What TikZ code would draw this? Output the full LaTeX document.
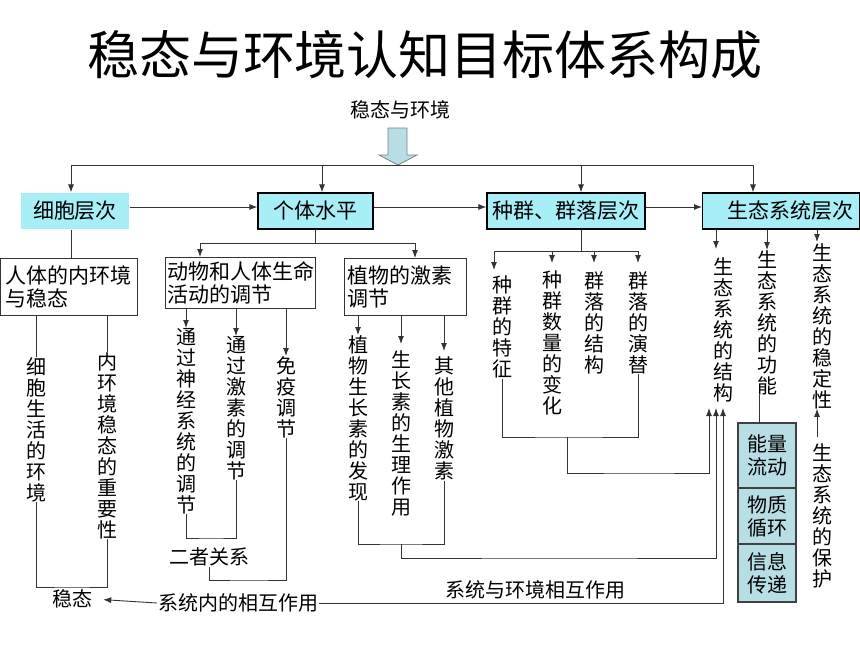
\documentclass[tikz,border=0pt]{standalone}
\usepackage{fontspec}
\setmainfont{Noto Sans CJK SC}
\usetikzlibrary{arrows.meta,positioning}
\definecolor{tiercyan}{RGB}{168,238,246}
\definecolor{funcblue}{RGB}{183,222,228}
\tikzset{
	titletext/.style={inner sep=0pt, font=\fontsize{52}{60}\selectfont},
	plaintext/.style={inner sep=1pt, font=\fontsize{20}{23}\selectfont},
	tierbox/.style={fill=tiercyan, draw=black, line width=1.2pt, minimum height=36pt, inner sep=0pt, font=\fontsize{21}{23}\selectfont},
	topicbox/.style={draw=black!80, line width=1.2pt, anchor=north west, align=left, inner ysep=0pt, font=\fontsize{21}{23}\selectfont},
	vlabel/.style={anchor=north, align=center, inner sep=0pt, font=\fontsize{20}{21}\selectfont},
	funcbox/.style={fill=funcblue, draw=black!75, line width=1.2pt, outer sep=0pt, minimum width=58pt, align=center, inner sep=0pt, font=\fontsize{20}{23}\selectfont},
	link/.style={draw=black!80, line width=0.9pt},
	arr/.style={link, -{Latex[length=8pt,width=6pt]}}
}
\begin{document}
\begin{tikzpicture}[x=1pt,y=-1pt]
	\useasboundingbox (0,0) rectangle (860,645);
	\node[titletext] (title) at (425,55) {稳态与环境认知目标体系构成};
	\node[plaintext] (root) at (400,110) {稳态与环境};
	\draw[draw=black!50, line width=0.8pt, fill=funcblue] (388,128) -- (407,128) -- (407,155) -- (417,155) -- (398,165) -- (379,155) -- (388,155) -- cycle;

	\node[tierbox, draw=none, minimum width=108pt] (cell) at (75,211) {细胞层次};
	\node[tierbox, minimum width=115pt] (indiv) at (315.5,211) {个体水平};
	\node[tierbox, minimum width=158pt] (pop) at (566,211) {种群、群落层次};
	\node[tierbox, anchor=west, text width=145pt, align=right, inner xsep=6pt] (eco) at (702,211) {生态系统层次};

	\coordinate (tcell) at (71,165);
	\coordinate (tindiv) at (322,165);
	\coordinate (tpop) at (581,165);
	\coordinate (teco) at (753,165);
	\draw[link] (tcell) -- (teco);
	\foreach \t/\b in {tcell/cell, tindiv/indiv, tpop/pop, teco/eco}
		\draw[arr] (\t) -- (\t |- \b.north);
	\draw[arr] ([yshift=4pt]cell.east) -- ([yshift=4pt]indiv.west);
	\draw[arr] ([yshift=4pt]indiv.east) -- ([yshift=4pt]pop.west);
	\draw[arr] ([yshift=4pt]pop.east) -- ([yshift=4pt]eco.west);

	\node[topicbox, minimum height=57pt, text width=127pt, inner xsep=5pt] (hbody) at (0,258) {人体的内环境\\与稳态};
	\node[topicbox, minimum height=51pt, text width=147pt, inner xsep=1.5pt] (anim) at (165,257) {动物和人体生命\\活动的调节};
	\node[topicbox, minimum height=57pt, text width=116pt, inner xsep=3pt] (plant) at (344,258) {植物的激素\\调节};

	\draw[link] (tcell |- cell.south) -- (tcell |- hbody.north);
	\coordinate (jind) at (315.5,243);
	\coordinate (aanim) at (200,243);
	\coordinate (aplant) at (415,243);
	\draw[link] (indiv.south) -- (jind);
	\draw[link] (aanim) -- (aplant);
	\draw[arr] (aanim) -- (aanim |- anim.north);
	\draw[arr] (aplant) -- (aplant |- plant.north);

	\node[vlabel] (cenv) at (36,357) {细\\胞\\生\\活\\的\\环\\境};
	\node[vlabel] (hsig) at (107,352) {内\\环\\境\\稳\\态\\的\\重\\要\\性};
	\node[vlabel] (nerve) at (186,328) {通\\过\\神\\经\\系\\统\\的\\调\\节};
	\node[vlabel] (horm) at (236,336) {通\\过\\激\\素\\的\\调\\节};
	\node[vlabel] (immu) at (286,356) {免\\疫\\调\\节};
	\node[vlabel] (disc) at (358,335) {植\\物\\生\\长\\素\\的\\发\\现};
	\node[vlabel] (phys) at (401,350) {生\\长\\素\\的\\生\\理\\作\\用};
	\node[vlabel] (other) at (444,357) {其\\他\\植\\物\\激\\素};
	\node[vlabel] (pfeat) at (502,276) {种\\群\\的\\特\\征};
	\node[vlabel] (pnum) at (552,271) {种\\群\\数\\量\\的\\变\\化};
	\node[vlabel] (cstr) at (594,271) {群\\落\\的\\结\\构};
	\node[vlabel] (csuc) at (638,271) {群\\落\\的\\演\\替};
	\node[vlabel] (estr) at (723,257) {生\\态\\系\\统\\的\\结\\构};
	\node[vlabel] (efun) at (767,250) {生\\态\\系\\统\\的\\功\\能};
	\node[vlabel] (estab) at (822,243) {生\\态\\系\\统\\的\\稳\\定\\性};
	\node[vlabel] (eprot) at (822,443) {生\\态\\系\\统\\的\\保\\护};

	\draw[link] (cenv.north |- hbody.south) -- (cenv.north);
	\draw[link] (hsig.north |- hbody.south) -- (hsig.north);
	\draw[arr] (nerve.north |- anim.south) -- (nerve.north);
	\draw[arr] (horm.north |- anim.south) -- (horm.north);
	\draw[arr] (immu.north |- anim.south) -- (immu.north);
	\draw[arr] (disc.north |- plant.south) -- (disc.north);
	\draw[arr, shorten >=6pt] (phys.north |- plant.south) -- (phys.north);
	\draw[arr, shorten >=6pt] (other.north |- plant.south) -- (other.north);

	\coordinate (afeat) at (494,251);
	\coordinate (asuc) at (638,251);
	\draw[link] (tpop |- pop.south) -- (tpop |- afeat);
	\draw[link] (afeat) -- (asuc);
	\draw[arr, shorten >=6pt] (afeat) -- (afeat |- pfeat.north);
	\draw[arr, shorten >=8pt] (pnum.north |- afeat) -- (pnum.north);
	\draw[arr, shorten >=8pt] (cstr.north |- afeat) -- (cstr.north);
	\draw[arr, shorten >=8pt] (csuc.north |- afeat) -- (csuc.north);

	\coordinate (astr) at (716,249);
	\coordinate (astab) at (817,242);
	\draw[arr] (astr |- eco.south) -- (astr);
	\draw[arr] (efun.north |- eco.south) -- (efun.north);
	\draw[arr] (astab |- eco.south) -- (astab);

	\node[funcbox, minimum height=65pt, anchor=north] (flow) at (767,423) {能量\\流动};
	\node[funcbox, minimum height=56pt, below=0pt of flow] (matter) {物质\\循环};
	\node[funcbox, minimum height=58pt, below=0pt of matter] (info) {信息\\传递};
	\coordinate (jfun) at (759,0);
	\draw[link] (efun.south -| jfun) -- (flow.north -| jfun);
	\coordinate (aprot) at (817,437);
	\draw[arr] (aprot) -- (aprot |- estab.south);

	\node[plaintext] (rel) at (209,557) {二者关系};
	\node[plaintext] (steady) at (72,599) {稳态};
	\node[plaintext] (intra) at (238,603) {系统内的相互作用};
	\node[plaintext] (inter) at (535,590) {系统与环境相互作用};

	\coordinate (jenv) at (72,587);
	\coordinate (jrel) at (211,538);
	\coordinate (jimm) at (250,580);
	\coordinate (jplant) at (401,544);
	\coordinate (jplant2) at (560,558);
	\coordinate (jpop) at (567,437);
	\coordinate (jpop2) at (640,473);
	\coordinate (in1) at (709,408);
	\coordinate (in2) at (716,408);
	\coordinate (in3) at (723,408);
	\draw[link] (cenv.south) |- (jenv) -| (hsig.south);
	\draw[link] (nerve.south) |- (jrel) -| (horm.south);
	\draw[link] (rel.south) |- (jimm) -| (immu.south);
	\draw[link] (disc.south) |- (jplant) -| (other.south);
	\draw[arr] (jplant) |- (jplant2) -| (in2);
	\draw[link] (pfeat.south) |- (jpop) -| (csuc.south);
	\draw[arr] (jpop) |- (jpop2) -| (in1);
	\draw[arr, shorten >=10pt] (intra.west) -- (steady.east);
	\draw[arr] (intra.east) -| (in3);
\end{tikzpicture}
\end{document}
